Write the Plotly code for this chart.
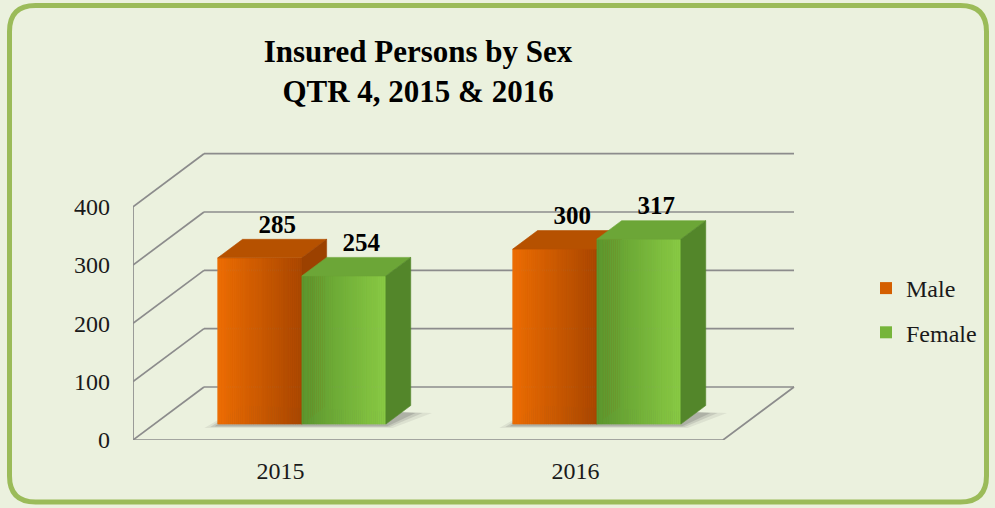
import numpy as np
import plotly.graph_objects as go

# ---------------- data ----------------
years = ["2015", "2016"]
male = [285, 300]
female = [254, 317]
series_names = ["Male", "Female"]
y_ticks = [0, 100, 200, 300, 400]
title_text = "Insured Persons by Sex<br>QTR 4, 2015 & 2016"

# ---------------- geometry (pixels -> data units) ----------------
W, H = 995, 508
L, R, T, B = 133, 797, 152, 440          # plot area in pixels
px_per_cat = 295.0
px_per_unit = 233.3 / 400.0
x0 = -0.5
x_max = x0 + (R - L) / px_per_cat
y_max = (B - T) / px_per_unit
DX = 71.0 / px_per_cat                    # full-depth offset, x units
DY = 53.0 / px_per_unit                   # full-depth offset, y units
t0, dt = 0.30, 0.35                       # bar front depth and bar depth
bw = 0.285                                # bar width (category units)

BG = "#EBF1DE"
GRID = "#8C8C8C"
FONT = "Liberation Serif"

front_cols = {"Male": ("#EE6E04", "#A84600"), "Female": ("#5C962E", "#8ACB45")}
top_cols = {"Male": "#B65100", "Female": "#6CA637"}
side_cols = {"Male": "#9C4100", "Female": "#53862A"}
legend_cols = {"Male": "#D45F00", "Female": "#76B53A"}


def mix(c1, c2, f):
    a = [int(c1[i:i + 2], 16) for i in (1, 3, 5)]
    b = [int(c2[i:i + 2], 16) for i in (1, 3, 5)]
    return "#%02x%02x%02x" % tuple(int(round(a[k] + (b[k] - a[k]) * f)) for k in range(3))


def poly(xs, ys, color, lw=0.6):
    return go.Scatter(x=list(xs) + [xs[0]], y=list(ys) + [ys[0]], mode="lines",
                      fill="toself", fillcolor=color,
                      line=dict(color=color, width=lw),
                      hoverinfo="skip", showlegend=False, cliponaxis=False)


fig = go.Figure()

cats = np.arange(len(years))
values = {"Male": male, "Female": female}
offsets = {"Male": -bw, "Female": 0.0}
base = t0 * DY
sx = t0 * DX
ddx, ddy = dt * DX, dt * DY

# real bars (front faces) through the axes
for name in series_names:
    fig.add_trace(go.Bar(
        x=cats + sx, y=values[name], base=base, width=bw, offset=offsets[name],
        name=name, legendgroup=name,
        marker=dict(color=legend_cols[name], line=dict(width=0)),
        hoverinfo="skip"))

# ---------------- 3D frame: walls and floor ----------------
gx, gy = [], []
for v in y_ticks:
    gx += [x0 + DX, 1.5 + DX, None]
    gy += [v + DY, v + DY, None]
    gx += [x0, x0 + DX, None]
    gy += [v, v + DY, None]
gx += [x0, x0, None, x0, 1.5, 1.5 + DX, None]
gy += [0, max(y_ticks), None, 0, 0, DY, None]
fig.add_trace(go.Scatter(x=gx, y=gy, mode="lines", line=dict(color=GRID, width=1.7),
                         hoverinfo="skip", showlegend=False, cliponaxis=False))

# soft shadows on the floor
for i in cats:
    xl = i - bw + sx
    xr = i + bw + sx
    for ex, al in [(0.045, 0.10), (0.025, 0.16), (0.01, 0.22)]:
        fig.add_trace(poly([xl - ex, xr + ex * 0.5, xr + ddx + ex * 1.6, xl + ddx],
                           [base - 3 - 80 * ex, base - 3 - 80 * ex, base + ddy * 0.6, base + ddy],
                           "rgba(90,90,90,%.2f)" % al, lw=0))

# ---------------- bar faces (painter's order) ----------------
NS = 40
for i in cats:
    for name in series_names:
        v = values[name][i]
        xl = i + offsets[name] + sx
        xr = xl + bw
        h = base + v
        c1, c2 = front_cols[name]
        for s in range(NS):
            a = xl + bw * s / NS
            b = xl + bw * (s + 1) / NS
            fig.add_trace(poly([a, b, b, a], [base, base, h, h], mix(c1, c2, (s + 0.5) / NS), lw=0.4))
        fig.add_trace(poly([xl, xr, xr + ddx, xl + ddx], [h, h, h + ddy, h + ddy], top_cols[name]))
        fig.add_trace(poly([xr, xr + ddx, xr + ddx, xr], [base, base + ddy, h + ddy, h], side_cols[name]))

# data labels
for name in series_names:
    xs = cats + offsets[name] + sx + bw / 2 + ddx * 0.7
    ys = np.array(values[name]) + base + ddy
    fig.add_trace(go.Scatter(x=xs, y=ys, mode="text", text=[str(v) for v in values[name]],
                             textposition="top center",
                             textfont=dict(family=FONT, size=25, color="#000000", weight="bold"),
                             hoverinfo="skip", showlegend=False, cliponaxis=False))

# ---------------- border ----------------
def P(px, py):
    return "%.5f,%.5f" % ((px - L) / (R - L), (B - py) / (B - T))

bl, bt, br, bb, rad = 9.5, 5.5, 986.5, 502.0, 26
path = ("M " + P(bl + rad, bt) + " L " + P(br - rad, bt) +
        " Q " + P(br, bt) + " " + P(br, bt + rad) +
        " L " + P(br, bb - rad) + " Q " + P(br, bb) + " " + P(br - rad, bb) +
        " L " + P(bl + rad, bb) + " Q " + P(bl, bb) + " " + P(bl, bb - rad) +
        " L " + P(bl, bt + rad) + " Q " + P(bl, bt) + " " + P(bl + rad, bt) + " Z")

fig.update_layout(
    width=W, height=H,
    margin=dict(l=L, r=W - R, t=T, b=H - B),
    paper_bgcolor=BG, plot_bgcolor="rgba(0,0,0,0)",
    barmode="overlay",
    shapes=[dict(type="path", xref="paper", yref="paper", path=path,
                 line=dict(color="#9BBB59", width=5), fillcolor="rgba(0,0,0,0)", layer="below")],
    title=dict(text=title_text, x=418 / W, xanchor="center", y=1 - 62 / H, yanchor="top",
               xref="container", yref="container",
               font=dict(family=FONT, size=31, color="#000000", weight="bold")),
    xaxis=dict(range=[x0, x_max], tickvals=list(cats), ticktext=years, showgrid=False,
               zeroline=False, showline=False, ticks="", ticklabelstandoff=14,
               tickfont=dict(family=FONT, size=24, color="#1a1a1a"), fixedrange=True),
    yaxis=dict(range=[0, y_max], tickvals=y_ticks, showgrid=False, zeroline=False,
               showline=False, ticks="", ticklabelstandoff=22,
               tickfont=dict(family=FONT, size=24, color="#1a1a1a"), fixedrange=True),
    legend=dict(x=(866 - L) / (R - L), xanchor="left", y=(B - 266) / (B - T), yanchor="top",
                bgcolor="rgba(0,0,0,0)", font=dict(family=FONT, size=24, color="#1a1a1a"),
                traceorder="grouped", tracegroupgap=10),
    showlegend=True,
)

fig.write_html("out.html",
               config={"displayModeBar": False},
               post_script="document.body.style.margin='0px';"
                           "document.body.style.background='#EBF1DE';")
